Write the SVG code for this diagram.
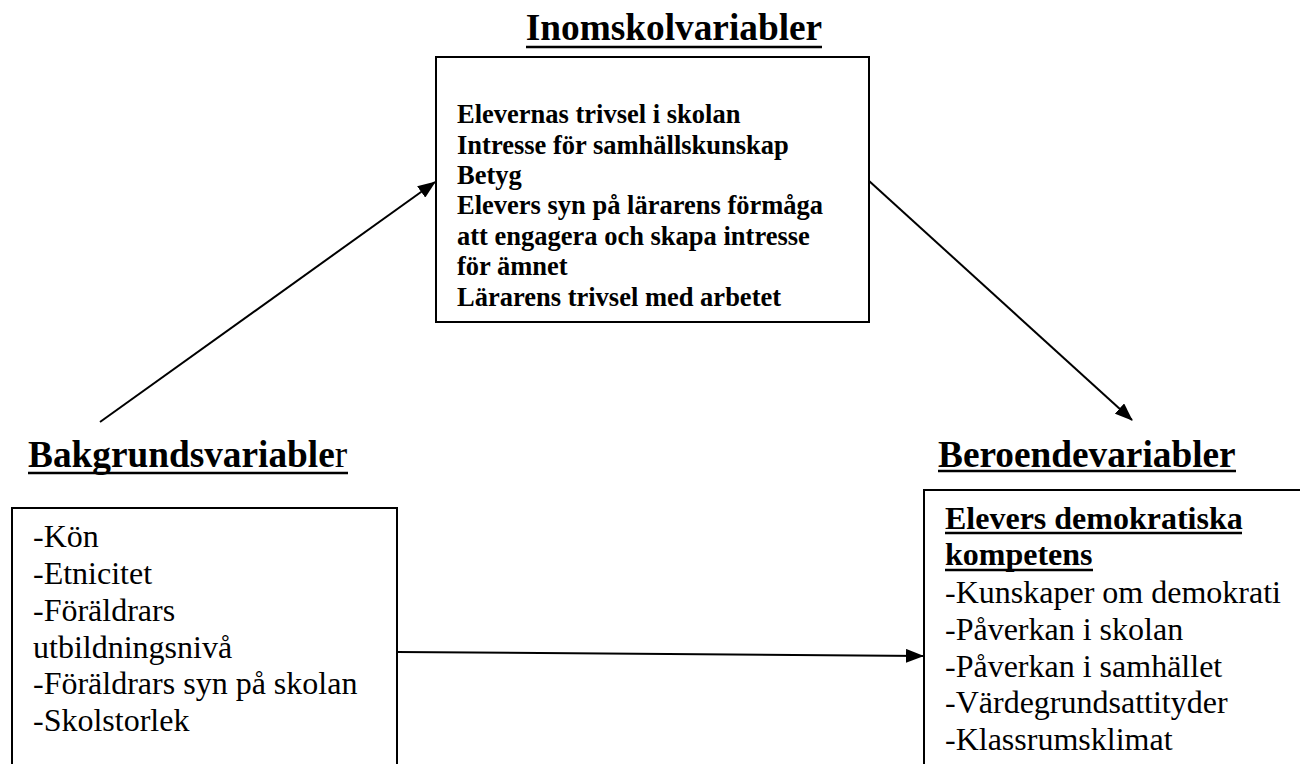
<svg xmlns="http://www.w3.org/2000/svg" width="1300" height="764" viewBox="0 0 1300 764">
<style>
text{font-family:"Liberation Serif","Times New Roman",serif;fill:#000}
.title{font-size:37.3px;font-weight:bold}
.bb{font-size:26.5px;font-weight:bold}
.reg{font-size:32px}
.rb{font-size:32px;font-weight:bold}
.box{fill:#fff;stroke:#000;stroke-width:2}
.ul{stroke:#000;stroke-width:2.6}
.conn{stroke:#000;stroke-width:2;fill:none}
</style>
<defs>
<marker id="ah" markerWidth="18" markerHeight="14" refX="17" refY="7" orient="auto" markerUnits="userSpaceOnUse">
<path d="M0,0 L18,7 L0,14 Z" fill="#000"/>
</marker>
</defs>
<rect width="1300" height="764" fill="#fff"/>
<g id="connectors">
<line class="conn" x1="100" y1="422" x2="435" y2="182" marker-end="url(#ah)"/>
<line class="conn" x1="868" y1="180" x2="1132" y2="420" marker-end="url(#ah)"/>
<line class="conn" x1="397" y1="652" x2="923" y2="656" marker-end="url(#ah)"/>
</g>
<g id="inom">
<text class="title" x="674" y="40" text-anchor="middle">Inomskolvariabler</text>
<line class="ul" x1="526" y1="47" x2="822" y2="47"/>
<rect class="box" x="436" y="57" width="433" height="265"/>
<text class="bb" x="457" y="123">Elevernas trivsel i skolan</text>
<text class="bb" x="457" y="154">Intresse för samhällskunskap</text>
<text class="bb" x="457" y="184">Betyg</text>
<text class="bb" x="457" y="214">Elevers syn på lärarens förmåga</text>
<text class="bb" x="457" y="245">att engagera och skapa intresse</text>
<text class="bb" x="457" y="275">för ämnet</text>
<text class="bb" x="457" y="306">Lärarens trivsel med arbetet</text>
</g>
<g id="bakgrund">
<text class="title" x="28" y="467">Bakgrundsvariable<tspan font-weight="normal">r</tspan></text>
<line class="ul" x1="28" y1="473" x2="348" y2="473"/>
<rect class="box" x="12" y="508" width="385" height="270"/>
<text class="reg" x="33" y="547">-Kön</text>
<text class="reg" x="33" y="584">-Etnicitet</text>
<text class="reg" x="33" y="621">-Föräldrars</text>
<text class="reg" x="33" y="658">utbildningsnivå</text>
<text class="reg" x="33" y="694">-Föräldrars syn på skolan</text>
<text class="reg" x="33" y="731">-Skolstorlek</text>
</g>
<g id="beroende">
<text class="title" x="938" y="467">Beroendevariabler</text>
<line class="ul" x1="938" y1="471" x2="1236" y2="471"/>
<rect class="box" x="924" y="490" width="390" height="290"/>
<text class="rb" x="945" y="529">Elevers demokratiska</text>
<line class="ul" x1="945" y1="533" x2="1242" y2="533"/>
<text class="rb" x="945" y="565">kompetens</text>
<line class="ul" x1="945" y1="570" x2="1093" y2="570"/>
<text class="reg" x="945" y="603">-Kunskaper om demokrati</text>
<text class="reg" x="945" y="640">-Påverkan i skolan</text>
<text class="reg" x="945" y="677">-Påverkan i samhället</text>
<text class="reg" x="945" y="713">-Värdegrundsattityder</text>
<text class="reg" x="945" y="750">-Klassrumsklimat</text>
</g>
</svg>
